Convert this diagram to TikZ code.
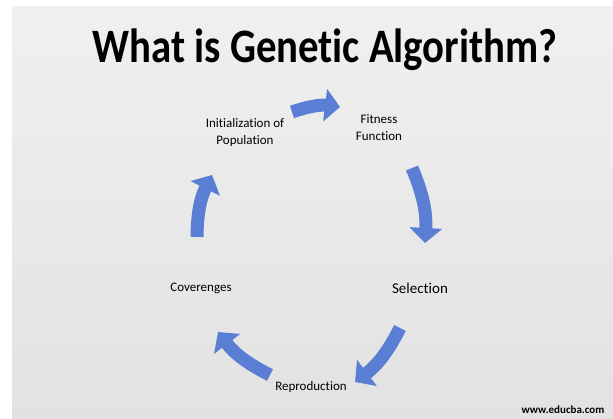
\documentclass[tikz,border=0pt]{standalone}
\usepackage{fontspec}
\setmainfont{Carlito}[Ligatures=NoCommon]
\usetikzlibrary{arrows.meta,positioning}
\definecolor{bgGray}{RGB}{240,240,240}
\definecolor{bgDark}{RGB}{226,226,226}
\definecolor{flowBlue}{RGB}{90,126,212}
\tikzset{%
    >={Triangle[width=32pt,length=15pt]},
    base/.style = {align=center, inner sep=2pt, text=black},
    stage/.style = {base, font=\fontsize{13}{17}\selectfont},
    flow/.style = {draw=flowBlue, line width=13pt, ->, bend left=13},
}

\begin{document}
\begin{tikzpicture}[x=1pt, y=1pt]
    % Background
    \useasboundingbox (0,0) rectangle (613,418);
    \fill[white] (0,0) rectangle (613,418);
    \shade[top color=bgGray, bottom color=bgDark] (12,0) rectangle (613,411);
    % Title
    \node (title) [base, anchor=base, font=\fontsize{48}{50}\selectfont\bfseries]
        at (325,355) {\scalebox{0.85}[1]{What is Genetic Algorithm?}};
    % Stages of the cycle
    \node (init)         [stage] at (245,285) {Initialization of\\Population};
    \node (fitness)      [stage] at (379,290) {Fitness\\Function};
    \node (selection)    [stage, font=\fontsize{15}{18}\selectfont]
                                 at (420,130) {Selection};
    \node (reproduction) [stage] at (311,31)  {Reproduction};
    \node (converge)     [stage] at (201,130) {Coverenges};
    \node (site) [base, font=\fontsize{11}{13}\selectfont\bfseries]
        at (563,8) {www.educba.com};
    % Arrows round the cycle
    \draw[flow] ([xshift=47pt,yshift=21pt]init.center)
        to ([xshift=-39pt,yshift=21pt]fitness.center);
    \draw[flow] ([xshift=33pt,yshift=-40pt]fitness.center)
        to ([xshift=5pt,yshift=45pt]selection.center);
    \draw[flow] ([xshift=-20pt,yshift=-40pt]selection.center)
        to ([xshift=44pt,yshift=5pt]reproduction.center);
    \draw[flow] ([xshift=-41pt,yshift=12pt]reproduction.center)
        to ([xshift=17pt,yshift=-44pt]converge.center);
    \draw[flow] ([xshift=-4pt,yshift=51pt]converge.center)
        to ([xshift=-33pt,yshift=-42pt]init.center);
\end{tikzpicture}
\end{document}
